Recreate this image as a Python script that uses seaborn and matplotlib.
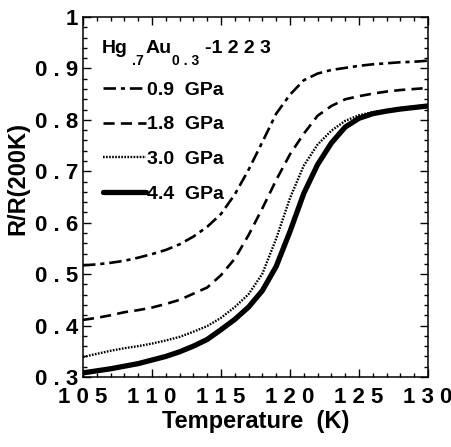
import matplotlib
matplotlib.use("Agg")
import matplotlib.pyplot as plt
import seaborn as sns
import pandas as pd
from matplotlib.ticker import MultipleLocator

# -------------------------------
# DATA
# -------------------------------
temperature = [105, 106, 107, 108, 109, 110, 111, 112, 113, 114, 115, 116, 117,
               118, 119, 120, 121, 122, 123, 124, 125, 126, 127, 128, 129, 130]

r_09 = [0.517, 0.519, 0.522, 0.526, 0.532, 0.539, 0.547, 0.558, 0.573, 0.592,
        0.617, 0.655, 0.703, 0.757, 0.812, 0.849, 0.877, 0.890, 0.897, 0.901,
        0.905, 0.908, 0.910, 0.912, 0.913, 0.915]
r_18 = [0.411, 0.415, 0.420, 0.426, 0.430, 0.435, 0.442, 0.450, 0.462, 0.474,
        0.498, 0.530, 0.576, 0.628, 0.683, 0.733, 0.773, 0.808, 0.827, 0.840,
        0.846, 0.851, 0.855, 0.858, 0.860, 0.862]
r_30 = [0.339, 0.345, 0.351, 0.356, 0.360, 0.365, 0.371, 0.378, 0.388, 0.399,
        0.415, 0.436, 0.461, 0.501, 0.569, 0.648, 0.711, 0.752, 0.779, 0.798,
        0.809, 0.815, 0.819, 0.823, 0.826, 0.829]
r_44 = [0.308, 0.312, 0.316, 0.321, 0.326, 0.333, 0.340, 0.349, 0.360, 0.373,
        0.392, 0.412, 0.436, 0.468, 0.515, 0.583, 0.657, 0.713, 0.755, 0.786,
        0.803, 0.812, 0.817, 0.821, 0.824, 0.827]

series_labels = ["0.9  GPa", "1.8  GPa", "3.0  GPa", "4.4  GPa"]

x_ticks = [105, 110, 115, 120, 125, 130]
x_tick_labels = ["1 0 5", "1 1 0", "1 1 5", "1 2 0", "1 2 5", "1 3 0"]
y_ticks = [0.3, 0.4, 0.5, 0.6, 0.7, 0.8, 0.9, 1.0]
y_tick_labels = ["0 . 3", "0 . 4", "0 . 5", "0 . 6", "0 . 7", "0 . 8", "0 . 9", "1"]

# -------------------------------
# STYLE
# -------------------------------
sns.set_theme(style="ticks")
plt.rcParams["font.family"] = ["Liberation Sans", "DejaVu Sans"]
plt.rcParams["font.weight"] = "bold"
plt.rcParams["text.color"] = "black"
plt.rcParams["axes.labelcolor"] = "black"
plt.rcParams["xtick.color"] = "black"
plt.rcParams["ytick.color"] = "black"
plt.rcParams["lines.scale_dashes"] = False

line_styles = [
    dict(lw=1.9, linestyle=(0, (9, 3.5, 3, 3.5))),
    dict(lw=1.9, linestyle=(0, (8, 4.5))),
    dict(lw=1.7, linestyle=(0, (1.2, 1.0))),
    dict(lw=3.8, linestyle="-"),
]

df = pd.DataFrame({
    "T": temperature * 4,
    "R": r_09 + r_18 + r_30 + r_44,
    "p": sum([[lab] * len(temperature) for lab in series_labels], []),
})

# -------------------------------
# PLOT
# -------------------------------
fig = plt.figure(figsize=(4.52, 4.47), dpi=100)
ax = fig.add_axes([0.1836, 0.1566, 0.9469 - 0.1836, 0.962 - 0.1566])

for lab, st in zip(series_labels, line_styles):
    sub = df[df["p"] == lab]
    sns.lineplot(data=sub, x="T", y="R", ax=ax, color="black",
                 label=lab, **st)

ax.set_xlim(105, 130)
ax.set_ylim(0.3, 1.0)
ax.set_xticks(x_ticks)
ax.set_xticklabels(x_tick_labels)
ax.set_yticks(y_ticks)
ax.set_yticklabels(y_tick_labels)
ax.xaxis.set_minor_locator(MultipleLocator(1))
ax.yaxis.set_minor_locator(MultipleLocator(0.02))

ax.tick_params(which="both", direction="in", top=True, right=True,
               width=1.0, colors="black")
ax.tick_params(which="major", length=5.5, labelsize=16, pad=7)
ax.tick_params(axis="y", which="major", pad=3.5)
ax.tick_params(which="minor", length=3)
for s in ax.spines.values():
    s.set_linewidth(1.1)
    s.set_color("black")

ax.set_xlabel("Temperature  (K)", fontsize=17, fontweight="bold", labelpad=2)
ax.set_ylabel("R/R(200K)", fontsize=17, fontweight="bold")
ax.yaxis.set_label_coords(-0.155, 0.55)

# title with subscripts
ax.text(0.055, 0.90, "Hg", transform=ax.transAxes, fontsize=14,
        fontweight="bold", va="baseline")
ax.text(0.142, 0.866, ".7", transform=ax.transAxes, fontsize=10,
        fontweight="bold", va="baseline")
ax.text(0.180, 0.90, "Au", transform=ax.transAxes, fontsize=14,
        fontweight="bold", va="baseline")
ax.text(0.258, 0.866, "0 . 3", transform=ax.transAxes, fontsize=10,
        fontweight="bold", va="baseline")
ax.text(0.354, 0.90, "-1 2 2 3", transform=ax.transAxes, fontsize=14,
        fontweight="bold", va="baseline")

leg = ax.legend(loc="upper left", bbox_to_anchor=(0.058, 0.822),
                frameon=False, fontsize=14, handlelength=2.2,
                handletextpad=0.05, labelspacing=0.88, borderpad=0,
                borderaxespad=0)
for t in leg.get_texts():
    t.set_fontweight("bold")

fig.savefig("out.png", dpi=100)
